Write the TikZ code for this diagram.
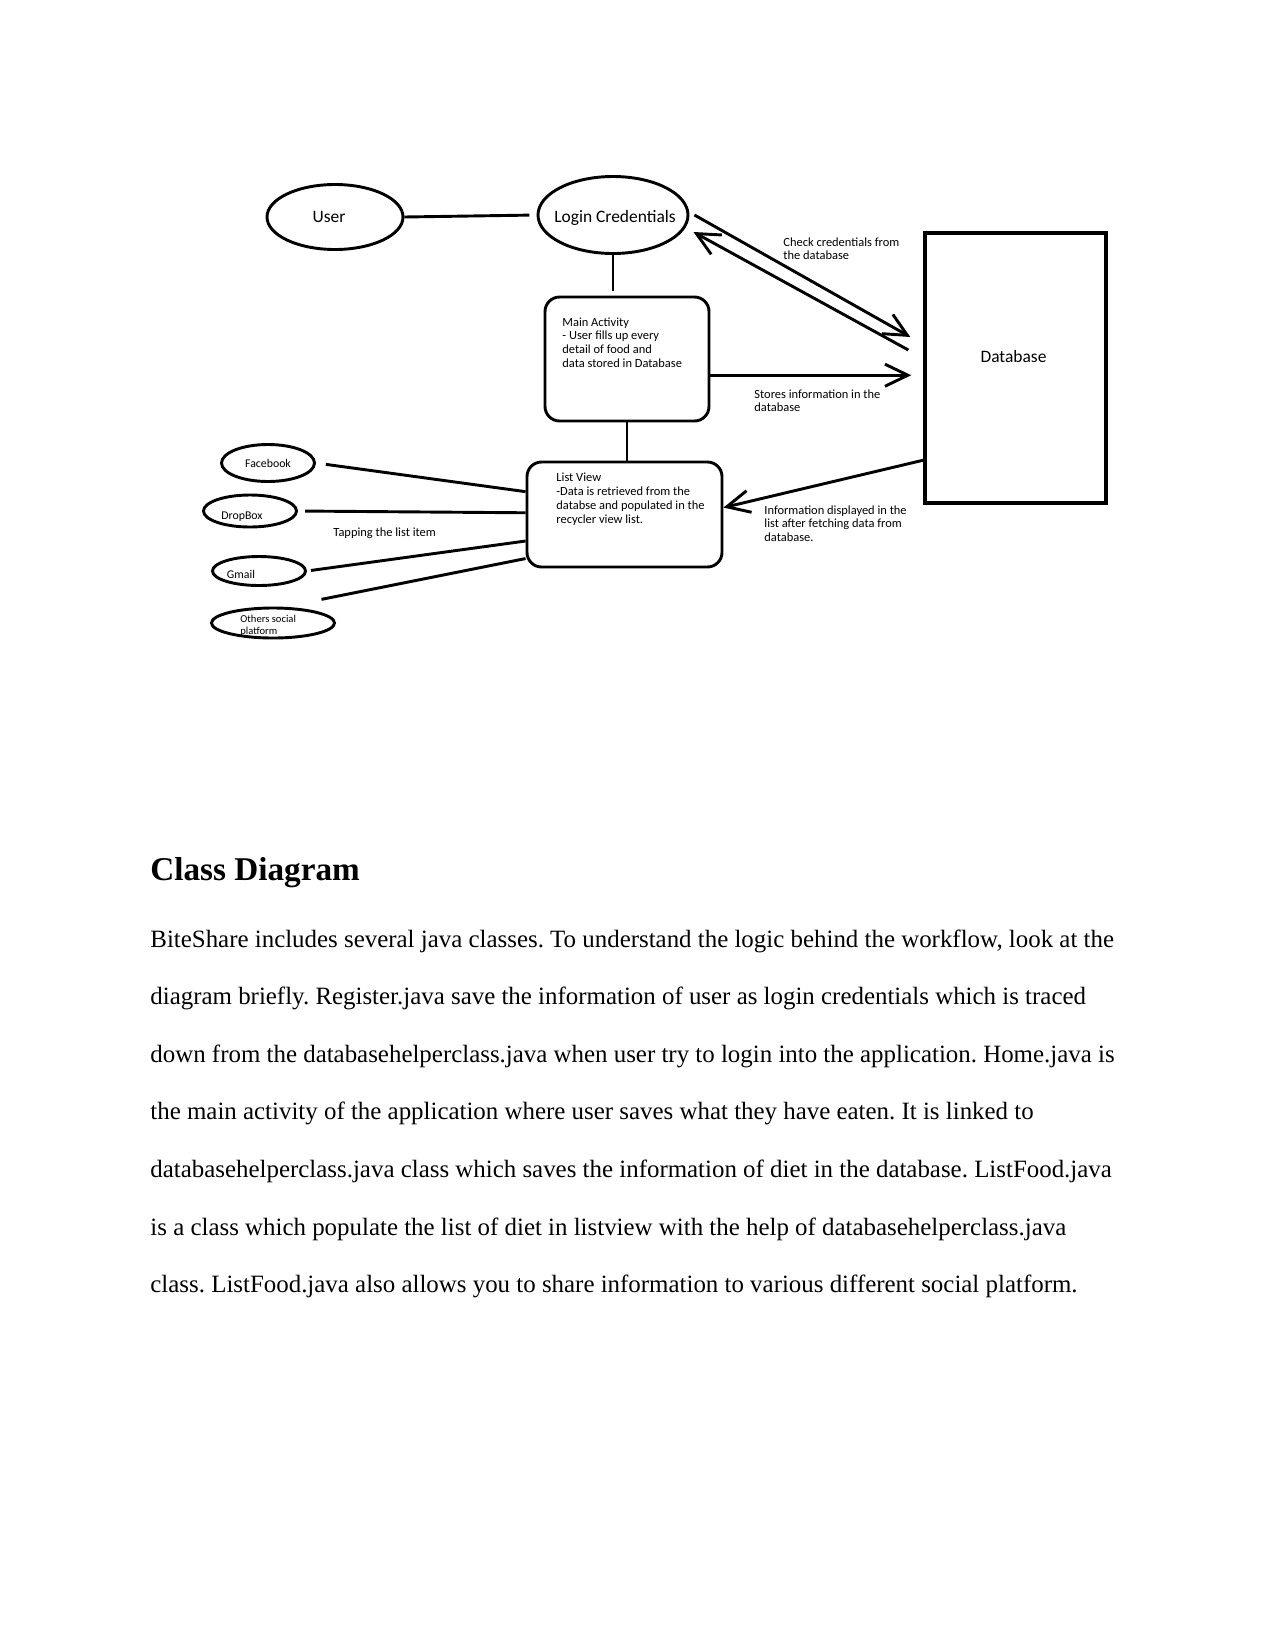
\documentclass[tikz,border=0pt]{standalone}
\usepackage{fontspec}
\setmainfont{Liberation Serif}
\newfontfamily\diagfont{Carlito}
\usetikzlibrary{arrows.meta,shapes.geometric}
\frenchspacing
\newcommand{\pxu}{0.48bp}
\tikzset{
  flow oval/.style={ellipse,draw,line width=1.4bp,inner sep=0pt},
  flow box/.style={draw,line width=1.4bp,rounded corners=7bp,inner sep=0pt},
  flow store/.style={draw,line width=1.6bp,inner sep=0pt},
  flow link/.style={line width=1.4bp},
  flow arrow/.style={line width=1.4bp,-{Straight Barb[length=11bp,width=10.6bp]}},
  flow title/.style={font=\diagfont\fontsize{8.4}{10}\selectfont,inner sep=0pt},
  flow note/.style={font=\diagfont\fontsize{6}{6.7}\selectfont,align=left,inner sep=0pt,anchor=north west},
  flow tag/.style={font=\diagfont\fontsize{5.7}{6.2}\selectfont,inner sep=0pt},
  body line/.style={anchor=base west,inner sep=0pt,font=\fontsize{12}{14}\selectfont}
}

\begin{document}
\begin{tikzpicture}[x=\pxu,y=-\pxu]
  \useasboundingbox (0,0) rectangle (1275,1650);
  % top row
  \node[flow oval,minimum width=136*\pxu,minimum height=65*\pxu] (user) at (335,217) {};
  \node[flow title] (userText) at ([xshift=-6*\pxu]user.center) {User};
  \node[flow oval,minimum width=150*\pxu,minimum height=77*\pxu] (login) at (613,215) {};
  \node[flow title] (loginText) at ([shift={(2,3)}]login.center) {Login Credentials};
  \node[flow store,minimum width=181*\pxu,minimum height=270*\pxu] (db) at (1015.5,368) {};
  \node[flow title] (dbText) at ([shift={(-2,-11)}]db.center) {Database};
  % activity boxes
  \node[flow box,minimum width=164*\pxu,minimum height=124*\pxu] (main) at (627,359) {};
  \node[flow note] (mainText) at (562,317) {Main Activity\\- User fills up every\\detail of food and\\data stored in Database};
  \node[flow box,minimum width=195*\pxu,minimum height=105*\pxu] (list) at (624.5,514.5) {};
  \node[flow note] (listText) at (556,473) {List View\\-Data is retrieved from the\\databse and populated in the\\recycler view list.};
  % social platforms
  \node[flow oval,minimum width=93*\pxu,minimum height=37*\pxu] (fb) at (268,463) {};
  \node[flow tag] (fbText) at (fb.center) {Facebook};
  \node[flow oval,minimum width=93*\pxu,minimum height=32*\pxu] (dbx) at (250,511) {};
  \node[flow tag] (dbxText) at ([shift={(-8,6)}]dbx.center) {DropBox};
  \node[flow oval,minimum width=93*\pxu,minimum height=29*\pxu] (gmail) at (259,571) {};
  \node[flow tag] (gmailText) at ([shift={(-18,3)}]gmail.center) {Gmail};
  \node[flow oval,minimum width=123*\pxu,minimum height=30*\pxu] (others) at (273,623) {};
  \node[flow tag,font=\diagfont\fontsize{5.1}{5.8}\selectfont,align=left,anchor=north west] (othersText) at (240,615) {Others social\\platform};
  % connectors
  \draw[flow link,shorten >=3.4bp] (user.east) -- (login.west);
  \draw[flow link,shorten >=2.4bp] (login.south) -- (login.south |- main.north);
  \draw[flow link] (main.south) -- (main.south |- list.north);
  \draw[flow arrow] ([xshift=5*\pxu]login.east) -- ([shift={(-13,-31)}]db.west);
  \draw[flow arrow] ([shift={(-15,-18)}]db.west) -- ([shift={(4,17)}]login.east);
  \draw[flow arrow,shorten >=5.8bp] (main.-11) -- (main.-11 -| db.west);
  \draw[flow arrow] (db.225.5) -- (list.4);
  \draw[flow link,shorten <=4.8bp] (fb.east) -- (list.167);
  \draw[flow link,shorten <=3.4bp] (dbx.east) -- (list.179);
  \draw[flow link,shorten <=2bp] (gmail.east) -- (list.195);
  \draw[flow link] ([shift={(4,-12)}]others.north east) -- (list.204);
  % labels
  \node[flow note] (checkNote) at (783,237) {Check credentials from\\the database};
  \node[flow note] (storeNote) at (754,389) {Stores information in the\\database};
  \node[flow note] (infoNote) at (764,505) {Information displayed in the\\list after fetching data from\\database.};
  \node[flow note] (tapNote) at (333,527) {Tapping the list item};
  % text below
  \node[anchor=base west,inner sep=0pt,font=\bfseries\fontsize{16}{19}\selectfont] (heading) at (150,880) {Class Diagram};
  \foreach \txt [count=\i] in {
    {BiteShare includes several java classes. To understand the logic behind the workflow, look at the},
    {diagram briefly. Register.java save the information of user as login credentials which is traced},
    {down from the databasehelperclass.java when user try to login into the application. Home.java is},
    {the main activity of the application where user saves what they have eaten. It is linked to},
    {databasehelperclass.java class which saves the information of diet in the database. ListFood.java},
    {is a class which populate the list of diet in listview with the help of databasehelperclass.java},
    {class. ListFood.java also allows you to share information to various different social platform.}}
    \node[body line] (line\i) at (150,{947+57.6*(\i-1)}) {\txt};
\end{tikzpicture}
\end{document}
